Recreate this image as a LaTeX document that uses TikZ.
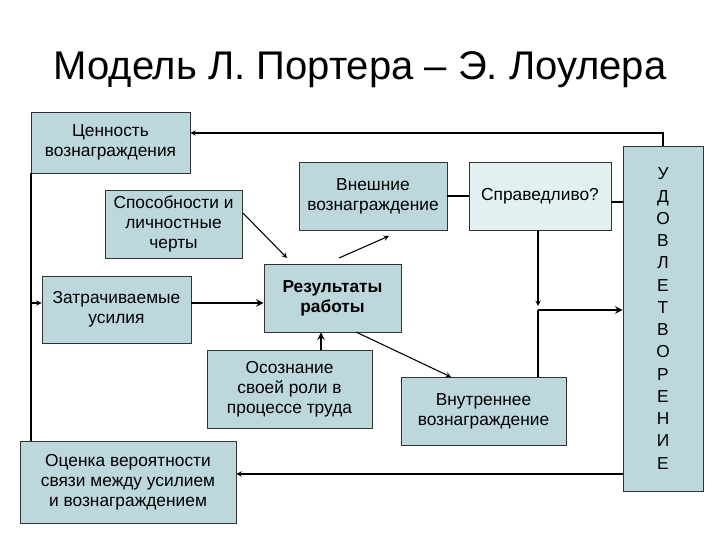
\documentclass[tikz,border=0pt]{standalone}
\usepackage{fontspec}
\setmainfont{Liberation Sans}
\definecolor{boxc}{RGB}{188,216,220}
\definecolor{boxl}{RGB}{226,240,242}
\begin{document}
\begin{tikzpicture}[x=0.75pt,y=-0.75pt,
  bx/.style={draw=black!80,fill=boxc,line width=0.6pt,align=center,inner sep=0pt,font=\fontsize{13}{15}\selectfont},
  ln/.style={line width=0.8pt},
  ar/.style={line width=0.8pt,-stealth},
  tk/.style={line width=1.5pt,-stealth}]
\useasboundingbox (0,0) rectangle (720,540);
\node at (360,70) {\fontsize{30}{36}\selectfont Модель Л. Портера – Э. Лоулера};
\newcommand{\bxn}[6][]{\node[bx,#1,minimum width={(#4-#2)*0.75pt},minimum height={(#5-#3)*0.75pt}] (#6) at ({(#2+#4)/2},{(#3+#5)/2})}
\bxn{31}{112}{190}{173}{cen} {Ценность\\вознаграждения};
\bxn{105}{190}{242}{258}{spo} {Способности и\\личностные\\черты};
\bxn{299}{162}{447}{230}{vne} {Внешние\\вознаграждение};
\bxn[fill=boxl]{469}{162}{611}{230}{spr} {Справедливо?};
\bxn{264}{264}{401}{332}{res} {\bfseries Результаты\\\bfseries работы};
\bxn{42}{276}{191}{343}{zat} {Затрачиваемые\\усилия};
\bxn{207}{350}{372}{428}{osz} {Осознание\\своей роли в\\процессе труда};
\bxn{401}{377}{566}{445}{vnu} {Внутреннее\\вознаграждение};
\bxn{20}{441}{236}{523}{ocn} {Оценка вероятности\\связи между усилием\\и вознаграждением};
\bxn[font=\fontsize{13}{16.7}\selectfont]{623}{146}{703}{491}{udv} {У\\Д\\О\\В\\Л\\Е\\Т\\В\\О\\Р\\Е\\Н\\И\\Е};
% loops
\coordinate (t1) at (663,133);
\draw[ar] (udv.north -| t1) -- (t1) -- (cen.east |- t1);
\coordinate (lx) at (31,303);
\draw[ln] (cen.south -| lx) -- (ocn.north -| lx);
\draw[ar] (lx) -- (zat.west |- lx);
\coordinate (b1) at (623,474);
\draw[ar] (b1) -- (ocn.east |- b1);
% main
\draw[tk] (zat.east |- lx) -- (res.west |- lx);
\coordinate (s1) at (243,213); \coordinate (s2) at (287,258);
\draw[ar] (s1) -- (s2);
\coordinate (r1) at (339,258); \coordinate (r2) at (389,236);
\draw[ar] (r1) -- (r2);
\coordinate (o1) at (321,350);
\draw[tk] (o1) -- (o1 |- res.south);
\coordinate (r3) at (356,332); \coordinate (v1) at (451,377);
\draw[ar] (r3) -- (v1);
\draw[ln] (vne.east |- 0,196) -- (spr.west |- 0,196);
\draw[ln] (spr.east |- 0,202) -- (udv.west |- 0,202);
\coordinate (j) at (538,310);
\draw[ar] (spr.south -| j) -- ([yshift=3pt]j);
\draw[ln] (vnu.north -| j) -- (j);
\draw[tk] (j) -- (udv.west |- j);
\end{tikzpicture}
\end{document}
